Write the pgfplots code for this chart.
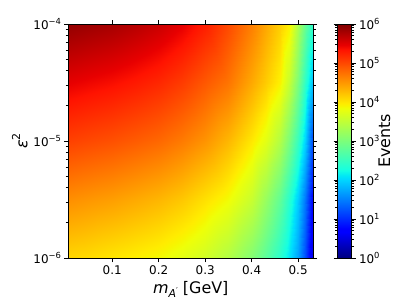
\documentclass[border=0pt]{standalone}
\usepackage{fontspec}
\setmainfont{DejaVu Sans}
\usepackage{pgfplots}
\pgfplotsset{compat=1.18}
\newcommand{\tp}[1]{10\raisebox{0.42em}{\fontsize{8.4}{9}\selectfont #1}}
\pgfplotstableread{
m e c
0.006 1e-6 4.10
0.05 1e-6 4.06
0.1 1e-6 4.00
0.15 1e-6 3.94
0.2 1e-6 3.87
0.25 1e-6 3.76
0.3 1e-6 3.62
0.35 1e-6 3.40
0.4 1e-6 3.05
0.43 1e-6 2.75
0.46 1e-6 2.40
0.48 1e-6 2.10
0.5 1e-6 1.70
0.515 1e-6 1.20
0.532 1e-6 0.45
0.006 3.1623e-6 4.55
0.05 3.1623e-6 4.50
0.1 3.1623e-6 4.45
0.15 3.1623e-6 4.38
0.2 3.1623e-6 4.30
0.25 3.1623e-6 4.19
0.3 3.1623e-6 4.03
0.35 3.1623e-6 3.86
0.4 3.1623e-6 3.55
0.43 3.1623e-6 3.20
0.46 3.1623e-6 2.80
0.48 3.1623e-6 2.40
0.5 3.1623e-6 1.95
0.515 3.1623e-6 1.45
0.532 3.1623e-6 0.70
0.006 1e-5 5.05
0.05 1e-5 5.00
0.1 1e-5 4.95
0.15 1e-5 4.88
0.2 1e-5 4.80
0.25 1e-5 4.68
0.3 1e-5 4.52
0.35 1e-5 4.30
0.4 1e-5 3.98
0.43 1e-5 3.75
0.46 1e-5 3.40
0.48 1e-5 3.00
0.5 1e-5 2.50
0.515 1e-5 2.00
0.532 1e-5 1.15
0.006 3.1623e-5 5.47
0.05 3.1623e-5 5.42
0.1 3.1623e-5 5.37
0.15 3.1623e-5 5.30
0.2 3.1623e-5 5.21
0.25 3.1623e-5 5.08
0.3 3.1623e-5 4.90
0.35 3.1623e-5 4.72
0.4 3.1623e-5 4.38
0.43 3.1623e-5 4.16
0.46 3.1623e-5 3.92
0.48 3.1623e-5 3.55
0.5 3.1623e-5 3.00
0.515 3.1623e-5 2.45
0.532 3.1623e-5 1.85
0.006 1e-4 5.90
0.05 1e-4 5.85
0.1 1e-4 5.80
0.15 1e-4 5.72
0.2 1e-4 5.62
0.25 1e-4 5.48
0.3 1e-4 5.28
0.35 1e-4 5.00
0.4 1e-4 4.65
0.43 1e-4 4.40
0.46 1e-4 4.15
0.48 1e-4 3.95
0.5 1e-4 3.35
0.515 1e-4 2.85
0.532 1e-4 2.40
}\events
\begin{document}
\begin{tikzpicture}
\begin{axis}[
  name=main,
  view={0}{90},
  scale only axis,
  width=244.5bp, height=234bp,
  xmin=0.006, xmax=0.532,
  ymode=log, ymin=1e-6, ymax=1e-4,
  ztick=\empty,
  xtick={0.1,0.2,0.3,0.4,0.5},
  xticklabels={0.1,0.2,0.3,0.4,0.5},
  ytick={1e-6,1e-5,1e-4},
  yticklabels={\tp{−6},\tp{−5},\tp{−4}},
  minor ytick={2e-6,3e-6,4e-6,5e-6,6e-6,7e-6,8e-6,9e-6,2e-5,3e-5,4e-5,5e-5,6e-5,7e-5,8e-5,9e-5},
  tick align=outside,
  major tick length=4bp, minor tick length=2.5bp,
  every tick/.style={black, line width=0.8bp},
  axis line style={black, line width=0.9bp},
  tick label style={font=\fontsize{12}{14}\selectfont},
  label style={font=\fontsize{16}{18}\selectfont},
  xlabel={\textit{m}\raisebox{-0.25em}{\fontsize{11}{12}\selectfont\textit{A}\raisebox{0.35em}{\fontsize{8}{9}\selectfont ′}} [GeV]},
  ylabel={\textit{ε}\raisebox{0.45em}{\fontsize{11}{12}\selectfont 2}},
  ylabel shift=-1bp,
  axis on top,
  colormap={mjet}{rgb(0pt)=(0,0,0.5); rgb(110pt)=(0,0,1); rgb(125pt)=(0,0,1); rgb(340pt)=(0,0.86,1); rgb(350pt)=(0,0.9,0.968); rgb(375pt)=(0.081,1,0.887); rgb(640pt)=(0.935,1,0.032); rgb(650pt)=(0.968,0.963,0); rgb(660pt)=(1,0.926,0); rgb(890pt)=(1,0.074,0); rgb(910pt)=(0.909,0,0); rgb(1000pt)=(0.5,0,0)},
  point meta min=0, point meta max=6,
  colorbar,
  colorbar style={
    scale only axis,
    width=14bp, height=234bp,
    at={(parent axis.north east)}, anchor=north west, xshift=16bp,
    ytick={0,1,2,3,4,5,6},
    yticklabels={\tp{0},\tp{1},\tp{2},\tp{3},\tp{4},\tp{5},\tp{6}},
    minor ytick={0.301,0.477,0.602,0.699,0.778,0.845,0.903,0.954,
      1.301,1.477,1.602,1.699,1.778,1.845,1.903,1.954,
      2.301,2.477,2.602,2.699,2.778,2.845,2.903,2.954,
      3.301,3.477,3.602,3.699,3.778,3.845,3.903,3.954,
      4.301,4.477,4.602,4.699,4.778,4.845,4.903,4.954,
      5.301,5.477,5.602,5.699,5.778,5.845,5.903,5.954},
    tick align=outside,
    major tick length=4bp, minor tick length=2.5bp,
    every tick/.style={black, line width=0.8bp},
    axis line style={black, line width=0.9bp},
    yticklabel style={font=\fontsize{12}{14}\selectfont},
    ylabel={Events},
    ylabel shift=-8bp,
    ylabel style={font=\fontsize{16}{18}\selectfont},
  },
]
\addplot3[surf, shader=interp, mesh/rows=5, mesh/cols=15, point meta=\thisrow{c}] table[x=m, y=e, z=c] {\events};
\end{axis}
\pgfresetboundingbox
\path[use as bounding box] ([shift={(-68.5bp,-41bp)}]main.south west) rectangle ([shift={(86bp,24bp)}]main.north east);
\end{tikzpicture}
\end{document}
